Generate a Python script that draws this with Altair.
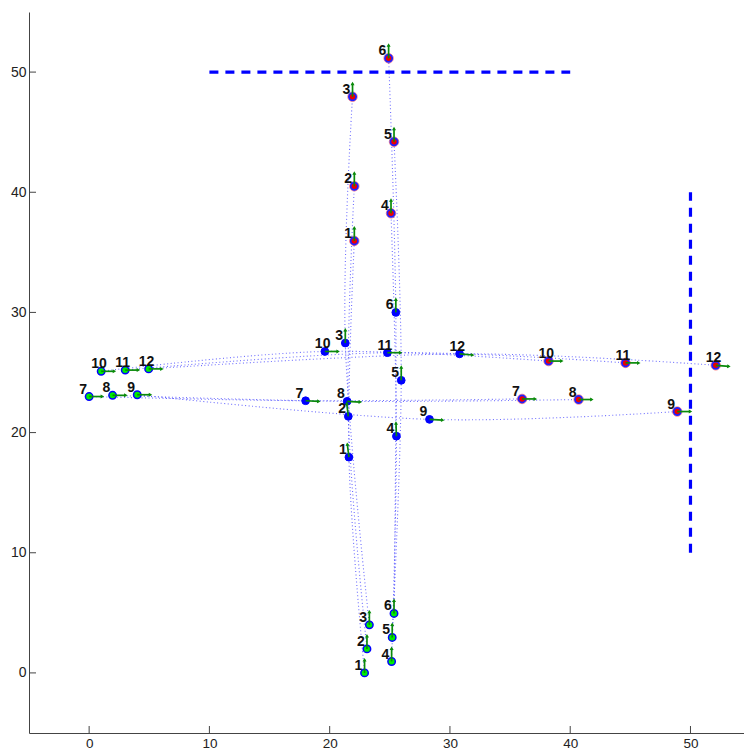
import altair as alt
import numpy as np
import pandas as pd

# Agent ids and their positions at three stages: start, intermediate, end
agent = list(range(1, 13))
start_x = [22.9, 23.1, 23.3, 25.15, 25.2, 25.35, 0.0, 1.95, 4.0, 1.0, 3.0, 4.95]
start_y = [0.0, 2.0, 4.0, 0.95, 2.95, 4.95, 23.0, 23.1, 23.15, 25.1, 25.2, 25.3]
mid_x = [21.6, 21.55, 21.3, 25.55, 25.95, 25.5, 18.0, 21.45, 28.3, 19.6, 24.8, 30.8]
mid_y = [17.95, 21.35, 27.45, 19.7, 24.35, 30.0, 22.65, 22.6, 21.1, 26.75, 26.65, 26.55]
end_x = [22.05, 22.05, 21.9, 25.1, 25.35, 24.9, 36.0, 40.7, 48.9, 38.2, 44.6, 52.1]
end_y = [35.95, 40.5, 47.95, 38.25, 44.2, 51.15, 22.8, 22.75, 21.75, 25.95, 25.8, 25.6]

# Heading of each agent (degrees, counter-clockwise from +x)
start_heading = [90, 90, 90, 90, 90, 90, 0, 0, 0, 0, 0, 0]
mid_heading = [97, 97, 90, 92, 90, 90, -3, -3, -3, 0, 0, -5]
end_heading = [90, 90, 90, 90, 90, 90, 0, 0, 0, 0, 0, -5]

# Goal lines
goal_h_x = [10, 40]
goal_h_y = 50
goal_v_x = 50
goal_v_y = [10, 40]

tick_values = [0, 10, 20, 30, 40, 50]
ARROW_LEN = 1.1

W, H = 715, 721
X_DOM = [-5, 54.45]
Y_DOM = [-5, 55]

stages = {
    "start": (start_x, start_y, start_heading),
    "mid": (mid_x, mid_y, mid_heading),
    "end": (end_x, end_y, end_heading),
}

rows = []
for order, (name, (xs, ys, hs)) in enumerate(stages.items()):
    for a, xv, yv, hv in zip(agent, xs, ys, hs):
        rad = np.deg2rad(hv)
        rows.append({
            "agent": a, "stage": name, "order": order,
            "x": xv, "y": yv,
            "x2": xv + ARROW_LEN * np.cos(rad),
            "y2": yv + ARROW_LEN * np.sin(rad),
            "rot": 90 - hv,
            "label": str(a),
        })
pts = pd.DataFrame(rows)

xaxis = alt.Axis(values=tick_values, tickSize=0, labelPadding=3, title=None,
                 grid=False, domainColor="#444444", domainWidth=1,
                 labelFont="Liberation Sans Narrow, Liberation Sans", labelFontSize=13.5,
                 labelColor="#222222", labelBaseline="top")
yaxis = alt.Axis(values=tick_values, tickSize=0, labelPadding=3, title=None,
                 grid=False, domainColor="#444444", domainWidth=1,
                 labelFont="Liberation Sans", labelFontSize=14, labelColor="#222222")

X = alt.X("x:Q", scale=alt.Scale(domain=X_DOM, nice=False, zero=False), axis=xaxis)
Y = alt.Y("y:Q", scale=alt.Scale(domain=Y_DOM, nice=False, zero=False), axis=yaxis)

# Trajectories through the three stages
paths = alt.Chart(pts).mark_line(
    color="#4a4aff", strokeWidth=1.1, strokeDash=[1, 2.5], opacity=0.8,
    interpolate="cardinal", clip=True
).encode(x=X, y=Y, detail="agent:N", order="order:Q")

# Dashed goal lines
gh = pd.DataFrame({"x": [goal_h_x[0]], "x2": [goal_h_x[1]], "y": [goal_h_y]})
gv = pd.DataFrame({"x": [goal_v_x], "y": [goal_v_y[0]], "y2": [goal_v_y[1]]})
goal_h = alt.Chart(gh).mark_rule(color="#0000ff", strokeWidth=3.2, strokeDash=[9, 7]).encode(
    x=X, x2="x2:Q", y=Y)
goal_v = alt.Chart(gv).mark_rule(color="#0000ff", strokeWidth=3.2, strokeDash=[9, 7]).encode(
    x=X, y=Y, y2="y2:Q")

# Inward tick marks
tk = pd.DataFrame({"x": tick_values, "y": tick_values})
xticks = alt.Chart(tk).mark_rule(color="#444444", strokeWidth=1).encode(
    x=X, y=alt.value(H), y2=alt.value(H - 7))
yticks = alt.Chart(tk).mark_rule(color="#444444", strokeWidth=1).encode(
    y=Y, x=alt.value(0), x2=alt.value(7))

start_df = pts[pts.stage == "start"]
mid_df = pts[pts.stage == "mid"]
end_df = pts[pts.stage == "end"]

start_pts = alt.Chart(start_df).mark_point(
    shape="circle", filled=True, fill="#00ee00", stroke="#0000ff", strokeWidth=1.5,
    size=55, opacity=1
).encode(x=X, y=Y)
mid_pts = alt.Chart(mid_df).mark_point(
    shape="circle", filled=True, fill="#0000ff", stroke="#0000ff", strokeWidth=1,
    size=60, opacity=1
).encode(x=X, y=Y)
end_halo = alt.Chart(end_df).mark_point(
    shape="circle", filled=False, stroke="#ff3030", strokeWidth=1, size=90, opacity=0.6
).encode(x=X, y=Y)
end_pts = alt.Chart(end_df).mark_point(
    shape="circle", filled=True, fill="#ee0000", stroke="#2020ff", strokeWidth=1.8,
    size=52, opacity=1
).encode(x=X, y=Y)

# Heading arrows
shafts = alt.Chart(pts).mark_rule(color="#0a8a0a", strokeWidth=1.7).encode(
    x=X, y=Y, x2="x2:Q", y2="y2:Q")
heads = alt.Chart(pts).mark_point(
    shape="triangle-up", filled=True, color="#0a8a0a", size=16, opacity=1
).encode(x=alt.X("x2:Q", scale=alt.Scale(domain=X_DOM, nice=False, zero=False), axis=xaxis),
         y=alt.Y("y2:Q", scale=alt.Scale(domain=Y_DOM, nice=False, zero=False), axis=yaxis),
         angle=alt.Angle("rot:Q", scale=None))

labels = alt.Chart(pts).mark_text(
    align="left", baseline="alphabetic", dx=-10, dy=-3,
    font="Liberation Sans", fontSize=14, fontWeight="bold", color="#111111"
).encode(x=X, y=Y, text="label:N")

chart = alt.layer(
    paths, goal_h, goal_v, start_pts, mid_pts, end_halo, end_pts,
    shafts, heads, labels, xticks, yticks
).properties(
    width=W, height=H,
    padding={"left": 29, "top": 12, "right": 0, "bottom": 17},
    autosize=alt.AutoSizeParams(type="none"),
    background="white",
).configure_view(stroke=None)

chart.save("out.html", embed_options={"renderer": "svg", "actions": False})
